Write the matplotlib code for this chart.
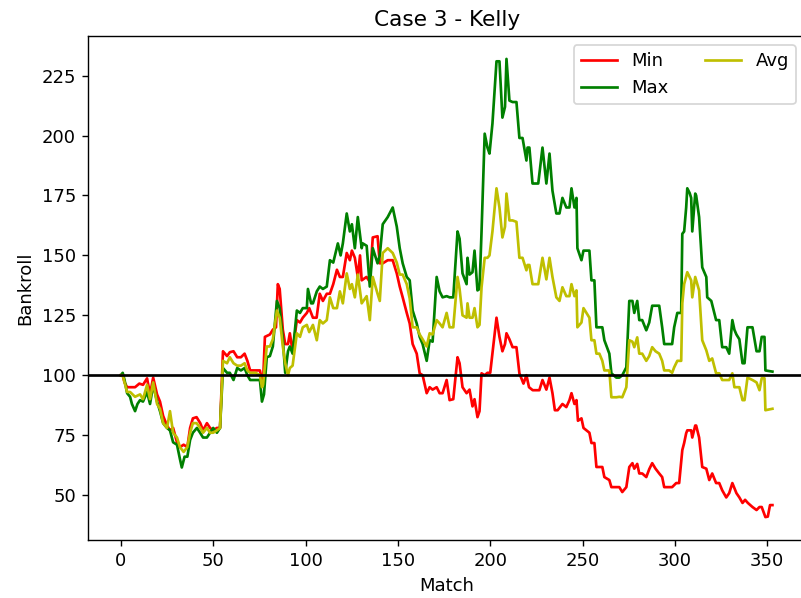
import matplotlib
matplotlib.use("Agg")
import matplotlib.pyplot as plt

# (match, bankroll)
min_points = [
    (0, 100), (1, 100), (2, 97), (3.4, 95), (5, 95), (7.7, 95), (10, 96.5), (12, 96),
    (14.2, 98.7), (15.8, 92), (17.5, 99), (19.6, 92), (21.2, 89), (22.9, 83), (25, 79),
    (26.6, 77), (28.3, 78), (30.4, 72), (32, 70), (34, 71), (36, 70), (37.5, 78),
    (39, 82), (41, 82.5), (43, 80), (44.5, 77), (46.6, 80), (48.3, 78), (50, 77),
    (52, 78), (53.7, 78), (55.3, 110), (57.5, 108), (59, 109.6), (61, 110), (63, 107.5),
    (65, 107.5), (67, 109), (68.5, 106), (70, 102), (73, 102), (75.3, 102), (76.4, 98),
    (77, 97), (78, 116), (80.7, 117), (82.3, 119), (84, 120), (85, 138), (86, 136),
    (87.7, 119), (89, 113), (90.5, 113), (91.5, 117.5), (93, 110), (95.3, 123),
    (97, 122), (98.5, 124), (100.7, 126), (102, 128), (104, 124), (106, 124),
    (107.7, 134), (109.4, 131), (111.5, 134), (113.2, 134), (115, 138), (117, 144),
    (118.6, 141), (120.2, 141), (122.3, 151), (124, 148), (125.1, 152), (126.7, 149),
    (128.3, 141), (129.5, 150), (130.4, 139.6), (133, 141), (134.8, 139), (136.4, 157.5),
    (139, 158), (140.2, 146.7), (141.8, 146.7), (144.5, 148), (147.2, 148),
    (149.4, 142.5), (151, 137), (152.6, 132.5), (154.8, 126), (156.4, 121.6), (158, 113),
    (160.2, 109), (161.8, 100.8), (163.4, 100), (165.6, 92.5), (167.2, 95), (168.8, 94),
    (171, 95), (172.6, 92.5), (174.2, 92.5), (176.4, 98), (178, 89.6), (180, 90),
    (182.3, 107.5), (183.4, 105), (185, 95), (187.2, 92.5), (188.8, 94), (190.4, 87),
    (191.5, 90), (193.1, 82.5), (194.2, 85), (195.3, 100.8), (197, 100), (198.5, 101),
    (200, 101), (201.2, 109), (203.4, 124), (205, 116), (206.6, 110), (208, 113),
    (208.8, 117.5), (210.4, 115), (212.1, 111.7), (214.2, 111.7), (215.8, 100.8),
    (218, 96.5), (219.6, 100), (221, 95), (223, 93.75), (226.6, 93.75), (228.3, 98),
    (230.4, 94), (232.1, 99), (233.7, 92.5), (235, 85.4), (236.5, 85.4), (239.1, 88),
    (241.2, 86.7), (242.9, 89.6), (244, 92.5), (245.6, 88), (246.7, 89.6), (247.5, 81),
    (249.4, 82), (250.5, 78), (253.7, 76), (254.8, 71.7), (256.4, 71.7), (257.5, 61.7),
    (259.1, 61.7), (260.7, 61.7), (261.8, 57.5), (264.5, 56.25), (265.6, 53.3),
    (268.3, 53.3), (269.9, 53.3), (271.5, 51.25), (273.7, 53.3), (275.3, 61.7),
    (277, 63.3), (278, 61), (279.6, 63), (280.7, 59), (282.3, 59), (284.5, 57.5),
    (286.1, 60.8), (287.7, 63.3), (289.5, 61), (291.5, 59), (293.1, 57.5), (294.2, 53.3),
    (296.9, 53.3), (298.5, 53.3), (300.7, 55), (302.3, 55), (304, 68.75), (305, 71.7),
    (306.1, 75.8), (306.7, 77), (308.8, 77), (309.4, 74), (311, 79), (311.5, 79),
    (313.1, 74), (314.8, 61.7), (317, 61), (318.6, 56.25), (320.2, 59), (322.3, 55),
    (324, 55), (325.6, 52), (327.8, 49), (329.4, 50.8), (331.1, 55), (333.3, 50.8),
    (334.9, 49), (336.6, 46.7), (338, 48), (339.5, 46.7), (342, 45), (344.2, 43.75),
    (345.8, 45), (347, 45), (349, 40.8), (350.3, 41), (351.5, 45.8), (352.8, 45.8),
]

max_points = [
    (0, 100), (1, 101), (2, 98), (3.4, 92.5), (5, 91), (6, 88), (7.7, 85), (9, 88),
    (10.4, 89.6), (12, 89), (14.2, 93), (15.8, 88), (17.5, 96), (19.6, 89), (21.2, 85),
    (22.9, 80), (25, 78), (26.6, 77), (28.3, 72), (30.4, 71), (32, 65), (33, 61.5),
    (34.5, 66), (36, 66), (37.5, 73), (39, 76), (41.2, 78), (42.9, 76), (44.5, 74),
    (46.6, 74), (48.3, 76), (50, 78), (52, 76), (53.7, 78), (55.3, 103), (57.5, 101),
    (59, 101), (61, 98), (63, 103), (65, 102), (67, 103), (68.5, 100), (70, 98),
    (73, 98), (75.3, 98), (76.4, 89), (77.5, 92), (79, 107.5), (80.7, 108), (82.3, 112),
    (84.5, 131), (86, 128), (87.7, 115), (89, 101), (90.5, 110), (91.5, 112), (93, 109),
    (95.3, 127), (97, 126), (98.5, 128), (100.7, 128), (101.3, 136), (103, 130),
    (104, 130), (106.1, 135), (107.7, 137), (109.4, 136), (111.5, 137), (113.2, 148),
    (115, 147), (117.5, 155), (119, 150), (120.2, 155), (122.3, 167.5), (124, 160),
    (125.1, 163), (126.7, 153), (128.3, 166), (130.4, 153), (131, 155), (133.1, 154),
    (134.8, 137), (136.4, 153), (139, 146.7), (140.2, 150), (141.8, 163), (144.5, 166),
    (147.2, 170), (149.4, 162), (151, 153), (152.6, 146.7), (154.8, 141), (156.4, 139.6),
    (158, 127), (160.2, 121.6), (161.8, 116), (163.4, 113), (165.6, 106), (167.2, 114.6),
    (168.8, 114), (171, 141), (172.6, 135), (174.2, 132.5), (176.4, 133), (178, 132.5),
    (180, 132.5), (182.3, 160), (183.4, 157), (185, 142.5), (187.2, 138), (187.7, 149),
    (188.8, 142), (190.4, 143), (191.5, 152), (193.1, 135.4), (194.2, 136), (195.3, 160),
    (197, 200.8), (198.5, 195), (199.6, 192.5), (201.2, 205), (203.4, 231), (205, 231),
    (206.6, 207.5), (208, 212), (208.8, 232), (210.4, 214.6), (212.1, 214), (214.2, 214),
    (215.8, 199), (217.5, 199), (219.6, 189.6), (220.2, 195), (221.2, 195), (222.9, 180),
    (226, 180), (228.3, 195), (230.4, 180), (232.1, 192.5), (233.7, 177), (235.8, 167.5),
    (237.5, 167.5), (239.1, 174), (241.2, 170), (242.9, 170), (244, 178), (245.6, 170),
    (246.7, 174), (247.2, 153), (249.4, 148), (250.5, 152), (253.7, 152), (254.8, 139.6),
    (256.4, 139.6), (257.5, 120), (259.1, 120), (260.7, 120), (261.8, 114.6),
    (264.5, 109), (265.6, 100.8), (268.3, 99), (269.9, 99), (271.5, 100), (273.7, 103.3),
    (275.3, 131), (277, 131), (278, 126), (279.6, 131), (280.7, 123), (282.3, 123),
    (284.5, 118.75), (286.1, 122), (287.7, 129), (289.5, 129), (291.5, 129),
    (293.1, 120), (294.2, 113), (296.9, 113), (298.5, 113), (299.6, 120), (301.3, 126),
    (303.4, 126), (304, 159), (305, 160), (306.1, 170), (306.7, 178), (308, 176),
    (308.8, 174), (309.4, 160), (311, 175.8), (311.5, 175), (313.1, 166), (314.8, 145),
    (317, 141), (317.5, 132.5), (319.7, 131), (322.3, 123), (324, 123), (325.6, 111.7),
    (327.8, 111.7), (329.4, 109), (331.1, 123), (332.2, 119), (333.3, 117), (334.9, 115),
    (336.6, 105), (337.7, 105), (339.3, 120), (342, 120), (344.2, 110), (345.8, 110),
    (347, 116), (348.5, 116), (349, 102), (352.8, 101.5),
]

avg_points = [
    (0, 100), (1, 100), (2, 97), (3.4, 93), (5, 93), (7.7, 91), (10.4, 92), (12, 90),
    (14.2, 96), (15.8, 90), (17.5, 97), (19.6, 88), (21.2, 86), (22.9, 80), (25, 78),
    (26.6, 85), (28.3, 76), (30.4, 74), (32, 70), (34, 68), (36, 70), (37.5, 76),
    (39, 80), (41, 80), (43, 78), (44.5, 76), (46.6, 78), (48.3, 76), (50, 76), (52, 77),
    (53.7, 78), (55.3, 106), (57.5, 105), (59, 107.5), (61, 105), (63, 104), (65, 104),
    (67, 105), (68.5, 102), (70, 101), (73, 101), (75.3, 100), (76.4, 95), (77, 96),
    (79, 112), (80.7, 112), (82.3, 115), (84.5, 127), (86, 124), (87.7, 112), (89, 105),
    (90.5, 100), (91.5, 103), (93, 104), (95.3, 117.5), (97, 116), (98.5, 120),
    (100.7, 121), (102, 118), (104, 121), (106.1, 114.6), (107.7, 123), (109.4, 121.6),
    (111.5, 123), (113.2, 132.5), (115, 128), (117, 128), (118.6, 135), (120.2, 130),
    (122.3, 142.5), (124, 136), (125.1, 138), (126.7, 132.5), (128.3, 142), (130.4, 130),
    (133.1, 133), (134.8, 123), (136.4, 141), (139, 134), (140.2, 131), (141.8, 151),
    (144.5, 153), (147.2, 151), (149.4, 147), (151, 142), (152.6, 142), (154.8, 138),
    (156.4, 132), (158, 120), (160.2, 120), (161.8, 117), (163.4, 115), (165.6, 112),
    (167.2, 117.5), (168.8, 117), (171, 123), (172.6, 121.6), (174.2, 120), (176.4, 126),
    (178, 120), (180, 120), (182.3, 141), (183.4, 136), (185, 125), (187.2, 124),
    (187.7, 130), (188.8, 124), (190.4, 124), (191.5, 128), (193.1, 120), (194.2, 121),
    (195.3, 136.7), (197, 149), (198.5, 149), (199.6, 150), (201.2, 160), (203.4, 178),
    (205, 170), (206.6, 157.5), (208, 162), (208.8, 175.8), (210.4, 164.6),
    (212.1, 164.6), (214.2, 164), (215.8, 149), (217.5, 149), (219.6, 143.8),
    (220.2, 146), (221.2, 146), (222.9, 138), (226, 138), (228.3, 149), (230.4, 140),
    (232.1, 149), (233.7, 141), (235.8, 132.5), (237.5, 131), (239.1, 136.7),
    (241.2, 133), (242.9, 133), (244, 138), (245.6, 133), (246.7, 135.4), (247.2, 120),
    (249.4, 122), (250.5, 128), (253.7, 124), (254.8, 114.6), (256.4, 114.6),
    (257.5, 109), (259.1, 109), (260.7, 106), (261.8, 102), (264.5, 102), (265.6, 90.8),
    (268.3, 90.8), (269.9, 91), (271.5, 90.8), (273.7, 95), (275.3, 114.6), (277, 114),
    (278, 111.7), (279.6, 115.8), (280.7, 109), (282.3, 109), (284.5, 106), (286.1, 108),
    (287.7, 111.7), (289.5, 110), (291.5, 109), (293.1, 106), (294.2, 102),
    (296.9, 102), (298.5, 101), (299.6, 103.3), (301.3, 106), (303.4, 106), (304, 130),
    (305, 138), (306.7, 143), (308.8, 139.6), (309.4, 132.5), (311, 141),
    (313.1, 135.4), (314.8, 114.6), (317, 110.4), (318.6, 106), (320.2, 107),
    (322.3, 100.8), (324, 100.8), (325.6, 98), (327.8, 98), (329.4, 98), (331.1, 100.8),
    (332.2, 95), (334.9, 95), (336.6, 89.6), (337.7, 89.6), (339.3, 99), (342, 98),
    (344.2, 97), (345.8, 93.75), (347, 98.75), (348.5, 98.75), (349, 85.4), (352.8, 86),
]

start_bankroll = 100


def unzip(points):
    xs = [p[0] for p in points]
    ys = [p[1] for p in points]
    return xs, ys


# text in the reference is a touch bigger than the default at this size
plt.rcParams['font.size'] = 10.4
plt.rcParams['lines.linewidth'] = 1.55

fig = plt.figure(figsize=(801 / 125, 598 / 125), dpi=125)
ax = fig.add_axes([0.1102, 0.097, 0.8948, 0.8428])

x, y = unzip(min_points)
ax.plot(x, y, color='r', label='Min')
x, y = unzip(max_points)
ax.plot(x, y, color='g', label='Max')
x, y = unzip(avg_points)
ax.plot(x, y, color='y', label='Avg')

ax.axhline(start_bankroll, color='k')

ax.set_title('Case 3 - Kelly')
ax.set_xlabel('Match')
ax.set_ylabel('Bankroll')
ax.legend(loc='upper right', ncol=2)

fig.savefig('out.png', dpi=125)
